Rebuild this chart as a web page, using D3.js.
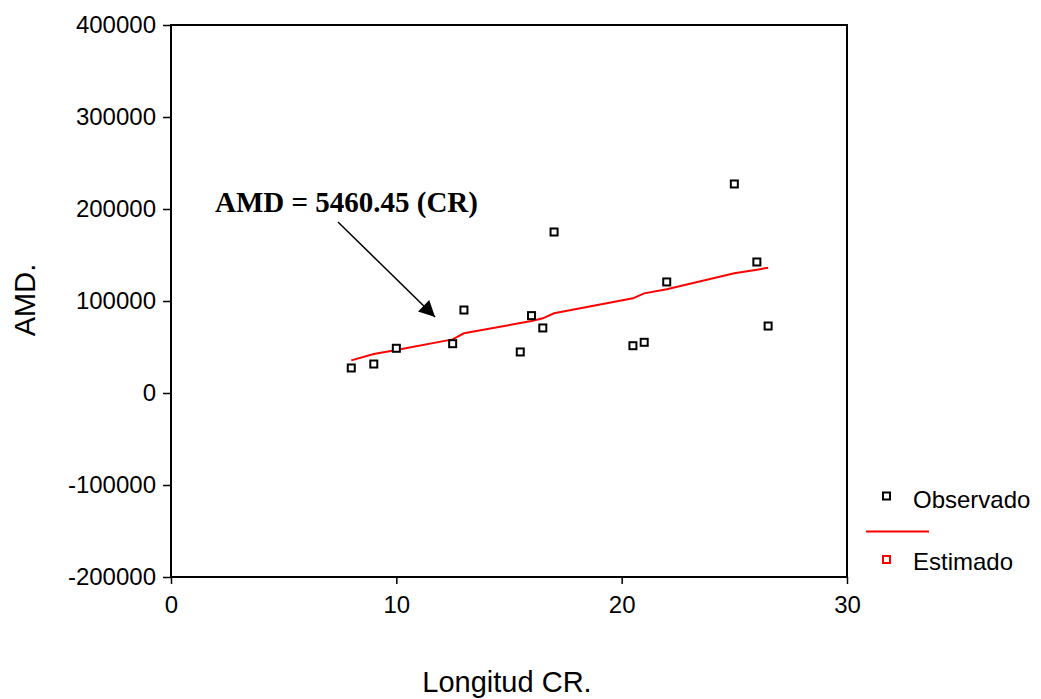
<!DOCTYPE html>
<html>
<head>
<meta charset="utf-8">
<script src="https://cdn.jsdelivr.net/npm/d3@7"></script>
<style>
  body { margin: 0; background: #fff; }
</style>
</head>
<body>
<div id="chart"></div>
<script>
// longitud CR (x) for each case
var crValues = [8, 9, 10, 12.5, 13, 15.5, 16, 16.5, 17, 20.5, 21, 22, 25, 26, 26.5];
// AMD observado
var amdObserved = [27200, 31500, 48600, 53600, 90200, 44600, 84100, 70700, 175000, 51400, 55100, 120700, 227200, 142400, 72800];
// AMD estimado (curva roja)
var amdEstimated = [35500, 42400, 46700, 58300, 64900, 76000, 78300, 81200, 86600, 102900, 108300, 112700, 130100, 134000, 136200];

var xTicks = [0, 10, 20, 30];
var yTicks = [-200000, -100000, 0, 100000, 200000, 300000, 400000];
var legendLabels = ["Observado", "Estimado"];

var width = 1041, height = 699;
var margin = {top: 25, right: 194, bottom: 122, left: 171};
var sans = "Arial, 'Liberation Sans', sans-serif";

var svg = d3.select("#chart").append("svg")
    .attr("width", width)
    .attr("height", height)
    .style("font-family", sans);

var x = d3.scaleLinear().domain([0, 30]).range([margin.left, width - margin.right]);
var y = d3.scaleLinear().domain([-200000, 400000]).range([height - margin.bottom, margin.top]);

// y axis
var yAxis = svg.append("g")
    .attr("transform", "translate(" + margin.left + ",0)")
    .call(d3.axisLeft(y).tickValues(yTicks).tickSize(8).tickPadding(7)
        .tickFormat(function (d) { return String(d); }));
yAxis.select(".domain").remove();
yAxis.selectAll(".tick line").attr("stroke", "#000").attr("stroke-width", 1.5);
yAxis.selectAll(".tick text")
    .attr("font-size", 24)
    .attr("fill", "#000")
    .attr("font-family", sans);

// x axis
var xAxis = svg.append("g")
    .attr("transform", "translate(0," + (height - margin.bottom) + ")")
    .call(d3.axisBottom(x).tickValues(xTicks).tickSize(7).tickPadding(12)
        .tickFormat(function (d) { return String(d); }));
xAxis.select(".domain").remove();
xAxis.selectAll(".tick line").attr("stroke", "#000").attr("stroke-width", 1.5);
xAxis.selectAll(".tick text")
    .attr("font-size", 24)
    .attr("fill", "#000")
    .attr("font-family", sans);

// frame
svg.append("rect")
    .attr("x", x(0))
    .attr("y", y(400000))
    .attr("width", x(30) - x(0))
    .attr("height", y(-200000) - y(400000))
    .attr("fill", "none")
    .attr("stroke", "#000")
    .attr("stroke-width", 2);

// estimated line
var line = d3.line()
    .x(function (d, i) { return x(crValues[i]); })
    .y(function (d) { return y(d); });

svg.append("path")
    .datum(amdEstimated)
    .attr("d", line)
    .attr("fill", "none")
    .attr("stroke", "#ff0000")
    .attr("stroke-width", 2);

// observed points
svg.selectAll(".obs")
    .data(amdObserved)
    .enter()
    .append("rect")
    .attr("class", "obs")
    .attr("x", function (d, i) { return x(crValues[i]) - 3.5; })
    .attr("y", function (d) { return y(d) - 3.5; })
    .attr("width", 7)
    .attr("height", 7)
    .attr("fill", "#fff")
    .attr("stroke", "#000")
    .attr("stroke-width", 2);

// annotation with arrow
svg.append("defs").append("marker")
    .attr("id", "head")
    .attr("markerUnits", "userSpaceOnUse")
    .attr("viewBox", "0 0 10 10")
    .attr("refX", 10)
    .attr("refY", 5)
    .attr("markerWidth", 18)
    .attr("markerHeight", 16)
    .attr("orient", "auto")
    .append("path")
    .attr("d", "M0,0L10,5L0,10Z")
    .attr("fill", "#000");

svg.append("line")
    .attr("x1", x(7.41)).attr("y1", y(185900))
    .attr("x2", x(11.72)).attr("y2", y(82600))
    .attr("stroke", "#000")
    .attr("stroke-width", 1.5)
    .attr("marker-end", "url(#head)");

svg.append("text")
    .attr("x", x(1.95))
    .attr("y", y(196700))
    .style("font-family", "'Liberation Serif', 'Times New Roman', serif")
    .style("font-weight", "bold")
    .style("font-size", "29px")
    .attr("fill", "#000")
    .text("AMD = 5460.45 (CR)");

// axis titles
svg.append("text")
    .attr("x", 507)
    .attr("y", 692)
    .attr("text-anchor", "middle")
    .attr("font-size", 29)
    .attr("fill", "#000")
    .text("Longitud CR.");

svg.append("text")
    .attr("transform", "translate(35,300) rotate(-90)")
    .attr("text-anchor", "middle")
    .attr("font-size", 29)
    .attr("fill", "#000")
    .text("AMD.");

// legend
var legend = svg.append("g");
legend.append("rect")
    .attr("x", 883).attr("y", 492.5).attr("width", 7).attr("height", 7)
    .attr("fill", "#fff").attr("stroke", "#000").attr("stroke-width", 2);
legend.append("text")
    .attr("x", 913).attr("y", 508)
    .attr("font-size", 24).attr("fill", "#000")
    .text(legendLabels[0]);
legend.append("line")
    .attr("x1", 866).attr("x2", 929).attr("y1", 531.5).attr("y2", 531.5)
    .attr("stroke", "#ff0000").attr("stroke-width", 2);
legend.append("rect")
    .attr("x", 883).attr("y", 556).attr("width", 7).attr("height", 7)
    .attr("fill", "#fff").attr("stroke", "#ff0000").attr("stroke-width", 2);
legend.append("text")
    .attr("x", 913).attr("y", 570)
    .attr("font-size", 24).attr("fill", "#000")
    .text(legendLabels[1]);
</script>
</body>
</html>
